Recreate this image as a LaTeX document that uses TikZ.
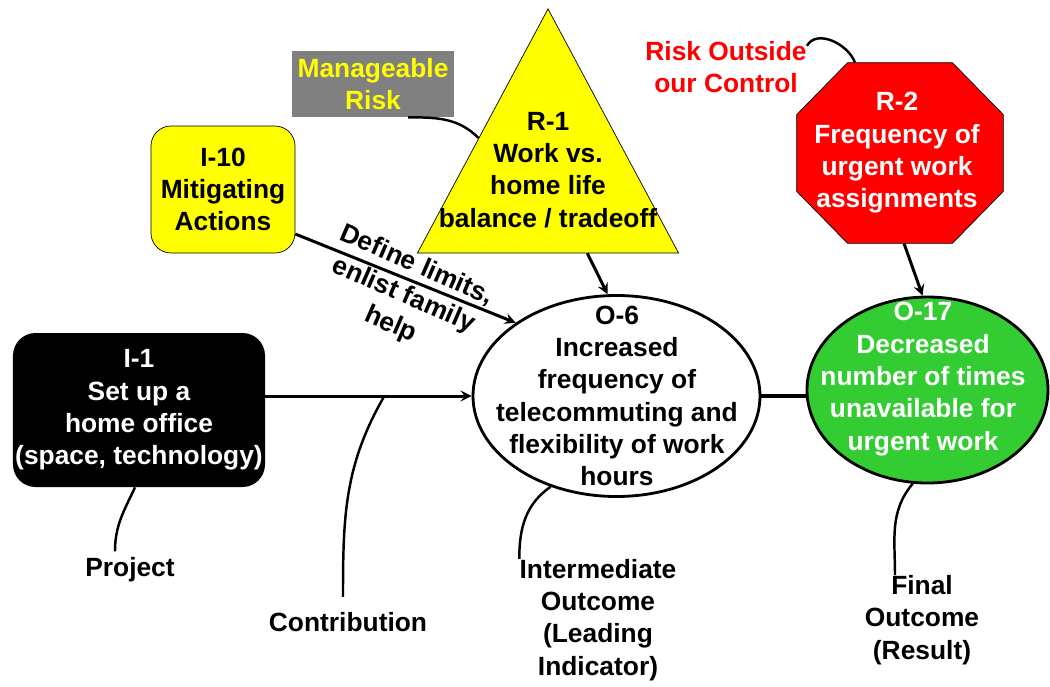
\documentclass[tikz,border=0pt]{standalone}
\usepackage{fontspec}
\setmainfont{Liberation Sans}
\usetikzlibrary{shapes.geometric,calc}

\definecolor{riskred}{RGB}{255,0,0}
\definecolor{riskyellow}{RGB}{255,255,0}
\definecolor{goalgreen}{RGB}{51,204,51}
\definecolor{boxgray}{RGB}{128,128,128}

\tikzstyle{block} = [rectangle, rounded corners=4.5mm, text centered, inner sep=0pt]
\tikzstyle{outcome} = [ellipse, draw, line width=1.6pt]
\tikzstyle{note} = [inner sep=0pt]
\tikzstyle{arrow} = [line width=1.7pt,->,>=stealth]
\tikzstyle{link} = [line width=1.4pt]

\begin{document}
\begin{tikzpicture}[x=0.2mm, y=-0.2mm, every node/.style={font=\bfseries\fontsize{15}{18.4}\selectfont, align=center}]
                \useasboundingbox (0,0) rectangle (1050,686);

                % projects and mitigation
                \node (i1) [block, fill=black, text=white, minimum width=5.04cm, minimum height=3.08cm] at (139,410) {I-1\\Set up a\\home office\\(space, technology)};
                \node (i10) [block, draw, thin, fill=riskyellow, minimum width=2.88cm, minimum height=2.54cm, rounded corners=4mm] at (223,189.5) {I-10\\Mitigating\\Actions};

                % risks
                \node (mrisk) [rectangle, fill=boxgray, text=riskyellow, minimum width=3.24cm, minimum height=1.32cm, inner sep=0pt] at (373,84) {Manageable\\Risk};
                \node (r1) [isosceles triangle, isosceles triangle stretches, shape border rotate=90, draw, thin, fill=riskyellow, minimum width=5.22cm, minimum height=4.88cm, inner sep=0pt, anchor=apex] at (548,8) {};
                \node (r1text) [note] at (548,170) {R-1\\Work vs.\\home life\\balance / tradeoff};
                \node (riskout) [note, text=riskred] at (726,67) {Risk Outside\\our Control};
                \node (r2) [rectangle, minimum width=4.12cm, minimum height=3.6cm, inner sep=0pt] at (900,153) {};
                \filldraw [thin, fill=riskred] ($(r2.north west)+(51,0)$) -- ($(r2.north east)+(-51,0)$) -- ($(r2.north east)+(0,52)$) -- ($(r2.south east)+(0,-52)$)
                    -- ($(r2.south east)+(-51,0)$) -- ($(r2.south west)+(51,0)$) -- ($(r2.south west)+(0,-52)$) -- ($(r2.north west)+(0,52)$) -- cycle;
                \node (r2text) [note, text=white] at (897,153) {R-2\\Frequency of\\urgent work\\assignments};

                % outcomes
                \node (o6) [outcome, fill=white, minimum width=5.74cm, minimum height=4.02cm] at (616.5,396) {};
                \node (o6text) [note] at (617,396) {O-6\\Increased\\frequency of\\telecommuting and\\flexibility of work\\hours};
                \node (o17) [outcome, fill=goalgreen, minimum width=4.82cm, minimum height=3.72cm] at (927.5,390) {};
                \node (o17text) [note, text=white] at (923,379) {O-17\\Decreased\\number of times\\unavailable for\\urgent work};

                % captions
                \node (project) [note] at (130,570) {Project};
                \node (contrib) [note] at (348,622) {Contribution};
                \node (inter) [note] at (598,620) {Intermediate\\Outcome\\(Leading\\Indicator)};
                \node (final) [note] at (922,620) {Final\\Outcome\\(Result)};
                \node (limits) [note, rotate=-23.5] at (403.5,295.5) {Define limits,\\enlist family\\help};

                \draw [arrow] (i1.east |- o6.west) -- coordinate[pos=0.577] (contrpt) (o6.west);
                \draw [arrow] ([yshift=-8.9mm]i10.east) -- (o6.144.5);
                \draw [arrow] ($(r1.left corner)!0.65!(r1.right corner)$) -- (o6.95);
                \draw [arrow] ([xshift=0.8mm]r2.south) -- (o17.93);
                \draw [line width=2.3pt] (o6.east) -- (o6.east -| o17.west);

                \draw [link] ([xshift=7mm]mrisk.south) to[out=0, in=135] ($(r1.apex)!0.53!(r1.left corner)$);
                \draw [link] ([yshift=-1mm]riskout.north east) to[out=60, in=110] ([xshift=-9mm]r2.north);
                \draw [link] ([xshift=-0.8mm]i1.south) to[out=-115, in=90] ([xshift=-3mm,yshift=1.2mm]project.north);
                \draw [link] (contrpt) to[out=-120, in=90] ([xshift=-1mm,yshift=3mm]contrib.north);
                \draw [link] (o6.-126) to[out=-145, in=90] (inter.north west);
                \draw [link] (o17.-99) to[out=-130, in=90] ([xshift=-5.4mm]final.north);
            \end{tikzpicture}
\end{document}
